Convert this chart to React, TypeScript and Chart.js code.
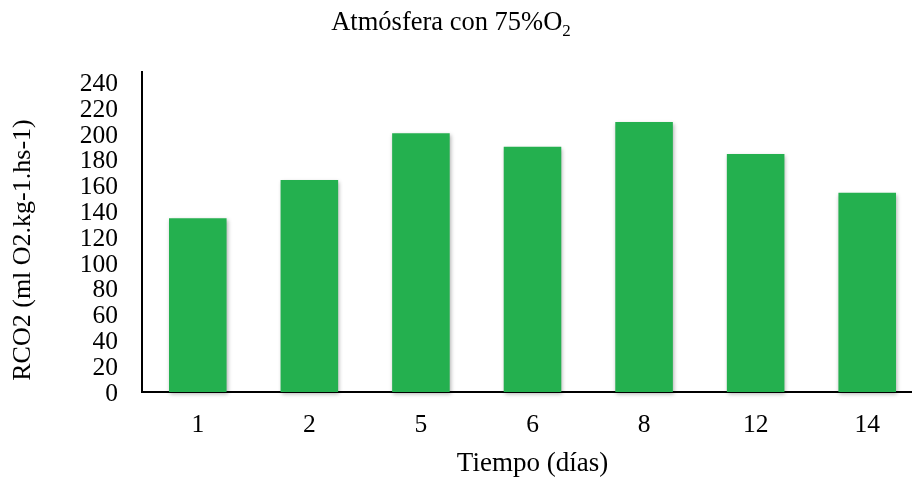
import { useEffect, useRef } from "react";
import { Chart, registerables } from "chart.js";

Chart.register(...registerables);

// Sampling days and respiration rate at each day
const days = ["1", "2", "5", "6", "8", "12", "14"];
const rco2 = [134.7, 164.3, 200.5, 190, 209.3, 184.5, 154.5];

// Value axis range
const yMin = 0;
const yMax = 248;
const yStep = 20;

// Texts
const chartTitle = "Atmósfera con 75%O";
const chartTitleSub = "2";
const yTitle = "RCO2 (ml O2.kg-1.hs-1)";
const xTitle = "Tiempo (días)";

const SERIF = '"Liberation Serif", "Times New Roman", Times, serif';
const BAR_GREEN = "#24B04F";

// Soft drop shadow behind the bars
const barShadow = {
  id: "barShadow",
  beforeDatasetsDraw(chart: any) {
    const c = chart.ctx;
    c.save();
    c.shadowColor = "rgba(0,0,0,0.3)";
    c.shadowBlur = 4;
    c.shadowOffsetX = 1;
    c.shadowOffsetY = 2;
  },
  afterDatasetsDraw(chart: any) {
    chart.ctx.restore();
  },
};

// Chart heading with subscript, and the rotated value-axis caption
const headings = {
  id: "headings",
  afterDraw(chart: any) {
    const c = chart.ctx;
    c.save();
    c.fillStyle = "#000";
    c.textBaseline = "alphabetic";
    c.textAlign = "left";
    c.font = `26.5px ${SERIF}`;
    const w1 = c.measureText(chartTitle).width;
    c.font = `17px ${SERIF}`;
    const w2 = c.measureText(chartTitleSub).width;
    const x0 = 451 - (w1 + w2) / 2;
    c.font = `26.5px ${SERIF}`;
    c.fillText(chartTitle, x0, 30);
    c.font = `17px ${SERIF}`;
    c.fillText(chartTitleSub, x0 + w1, 36);

    c.translate(23, 250);
    c.rotate(-Math.PI / 2);
    c.textAlign = "center";
    c.textBaseline = "middle";
    c.font = `26px ${SERIF}`;
    c.fillText(yTitle, 0, 0);
    c.restore();
  },
};

export default function App() {
  const ref = useRef<HTMLCanvasElement>(null);

  useEffect(() => {
    const chart = new Chart(ref.current!, {
      type: "bar",
      data: {
        labels: days,
        datasets: [
          {
            data: rco2,
            backgroundColor: BAR_GREEN,
            borderWidth: 0,
            categoryPercentage: 1,
            barPercentage: 0.516,
            clip: false as any,
          },
        ],
      },
      options: {
        responsive: false,
        animation: false,
        devicePixelRatio: 1,
        layout: { padding: { top: 72, right: 0, left: 0, bottom: 0 } },
        plugins: {
          legend: { display: false },
          title: { display: false },
          tooltip: { enabled: false },
        },
        scales: {
          x: {
            type: "category",
            offset: true,
            z: 1,
            grid: { display: false, drawTicks: false },
            border: { display: true, color: "#000", width: 2 },
            ticks: {
              color: "#000",
              font: { family: SERIF, size: 25.5 },
              padding: 18,
              maxRotation: 0,
              autoSkip: false,
            },
            title: {
              display: true,
              text: xTitle,
              color: "#000",
              font: { family: SERIF, size: 27 },
              padding: { top: 0, bottom: 1 },
            },
            afterFit: (s: any) => {
              s.height = 89;
            },
          },
          y: {
            min: yMin,
            max: yMax,
            z: 1,
            grid: { display: false, drawTicks: false },
            border: { display: true, color: "#000", width: 2 },
            ticks: {
              stepSize: yStep,
              includeBounds: false,
              autoSkip: false,
              color: "#000",
              font: { family: SERIF, size: 25.5, lineHeight: 1 },
              padding: 24,
              labelOffset: 2,
            },
            afterFit: (s: any) => {
              s.width = 142;
            },
          },
        },
      },
      plugins: [barShadow, headings],
    });
    return () => chart.destroy();
  }, []);

  return (
    <div
      style={{
        position: "fixed",
        left: 0,
        top: 0,
        width: 912,
        height: 481,
        overflow: "hidden",
        background: "#fff",
      }}
    >
      <canvas
        ref={ref}
        width={923}
        height={481}
        style={{ display: "block", width: 923, height: 481 }}
      />
    </div>
  );
}
